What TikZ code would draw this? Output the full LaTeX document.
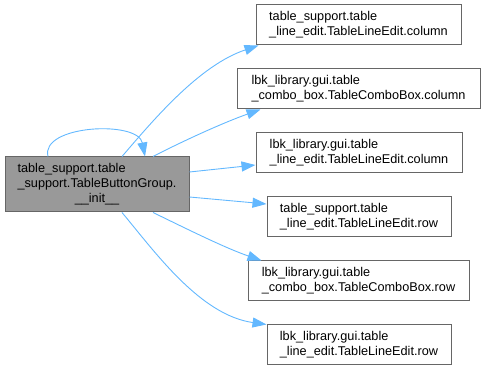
\documentclass[tikz,border=0pt]{standalone}
\usepackage{fontspec}
\setmainfont{Liberation Sans}
\usetikzlibrary{arrows.meta,calc}
\definecolor{edgeblue}{HTML}{63B8FF}
\definecolor{nodeborder}{HTML}{666666}
\definecolor{mainfill}{HTML}{999999}
\begin{document}
\begin{tikzpicture}[x=1pt,y=-1pt,
  fn/.style={draw=nodeborder, line width=1pt, fill=white, inner sep=0pt,
    minimum height=40pt, font=\fontsize{12.7}{15}\selectfont},
  mainfn/.style={fn, fill=mainfill, minimum height=55pt},
  call/.style={draw=edgeblue, line width=0.9pt,
    -{Triangle[length=14pt,width=10pt]}}]
\useasboundingbox (0,0) rectangle (485,371);

% caller
\node[mainfn, minimum width=184pt] (main) at (97,184.5)
  {\begin{tabular}{@{}l@{}}table\_support.table\\\_support.TableButtonGroup.\\\multicolumn{1}{c}{\_\_init\_\_}\end{tabular}};

% callees
\node[fn, minimum width=205pt] (n1) at (358.5,25)
  {\begin{tabular}{@{}l@{}}table\_support.table\\\_line\_edit.TableLineEdit.column\end{tabular}};
\node[fn, minimum width=243pt] (n2) at (358.5,89)
  {\begin{tabular}{@{}l@{}}lbk\_library.gui.table\\\_combo\_box.TableComboBox.column\end{tabular}};
\node[fn, minimum width=206pt] (n3) at (359,153)
  {\begin{tabular}{@{}l@{}}lbk\_library.gui.table\\\_line\_edit.TableLineEdit.column\end{tabular}};
\node[fn, minimum width=184pt] (n4) at (359,217)
  {\begin{tabular}{@{}l@{}}table\_support.table\\\_line\_edit.TableLineEdit.row\end{tabular}};
\node[fn, minimum width=221pt] (n5) at (358.5,281)
  {\begin{tabular}{@{}l@{}}lbk\_library.gui.table\\\_combo\_box.TableComboBox.row\end{tabular}};
\node[fn, minimum width=184pt] (n6) at (359,345)
  {\begin{tabular}{@{}l@{}}lbk\_library.gui.table\\\_line\_edit.TableLineEdit.row\end{tabular}};

% calls
\draw[call] ($(main.north)+(-49,0)$) .. controls (40,125) and (138,120) .. ($(main.north)+(48,0)$);
\draw[call] ($(main.north)+(25,0)$) .. controls (155,118) and (200,65) .. ($(n1.south west)+(3,0)$);
\draw[call] ($(main.north)+(56,0)$) .. controls (185,140) and (225,122) .. ($(n2.south west)+(24,0)$);
\draw[call] ($(main.east)+(0,-12.5)$) -- ($(n3.west)+(0,12)$);
\draw[call] ($(main.east)+(0,12.5)$) -- ($(n4.west)+(0,-13)$);
\draw[call] ($(main.south)+(56,0)$) .. controls (185,228) and (225,248) .. ($(n5.north west)+(14,0)$);
\draw[call] ($(main.south)+(25,0)$) .. controls (155,252) and (200,315) .. (n6.north west);
\end{tikzpicture}
\end{document}
